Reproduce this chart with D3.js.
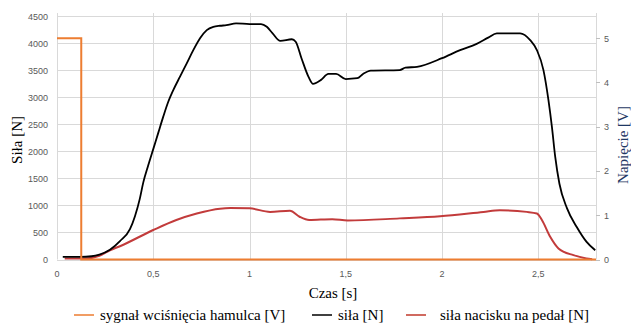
<!DOCTYPE html>
<html>
<head>
<meta charset="utf-8">
<script src="https://cdn.jsdelivr.net/npm/d3@7"></script>
<style>
  body { margin: 0; background: #fff; }
  svg { display: block; }
  .tick-label { font-family: "Liberation Sans", Arial, sans-serif; font-size: 9px; fill: #595959; }
  .title { font-family: "Liberation Serif", "Times New Roman", serif; font-size: 15px; }
</style>
</head>
<body>
<svg id="chart" width="631" height="323"></svg>
<script>
// Time axis ticks and labels (Polish decimal comma).
const xTicks = [0, 0.5, 1, 1.5, 2, 2.5];
const xTickLabels = ['0', '0,5', '1', '1,5', '2', '2,5'];
const leftTicks = [0, 500, 1000, 1500, 2000, 2500, 3000, 3500, 4000, 4500];
const rightTicks = [0, 1, 2, 3, 4, 5];

// Brake signal [V] (right axis).
const signalT = [0, 0.126, 0.126, 2.8];
const signalV = [5, 5, 0, 0];

// Force [N] (left axis).
const forceT = [0.03, 0.12, 0.18, 0.22, 0.275, 0.327, 0.379, 0.405, 0.43, 0.448, 0.474, 0.5, 0.526, 0.552, 0.578, 0.604, 0.639, 0.674, 0.708, 0.743, 0.778, 0.812, 0.847, 0.88, 0.93, 1.0, 1.06, 1.09, 1.12, 1.16, 1.22, 1.24, 1.27, 1.306, 1.33, 1.37, 1.41, 1.45, 1.5, 1.56, 1.59, 1.63, 1.78, 1.81, 1.87, 2.0, 2.094, 2.18, 2.24, 2.285, 2.406, 2.458, 2.493, 2.527, 2.553, 2.571, 2.588, 2.61, 2.649, 2.7, 2.75, 2.796];
const forceN = [50, 50, 60, 90, 180, 340, 560, 800, 1120, 1420, 1740, 2040, 2340, 2640, 2915, 3130, 3380, 3625, 3870, 4090, 4240, 4300, 4320, 4330, 4365, 4350, 4350, 4300, 4180, 4040, 4070, 4025, 3720, 3380, 3245, 3315, 3430, 3430, 3335, 3350, 3430, 3490, 3500, 3545, 3560, 3720, 3870, 3985, 4100, 4180, 4180, 4055, 3870, 3500, 2945, 2450, 1900, 1400, 950, 600, 330, 170];

// Pedal force [N] (left axis).
const pedalT = [0.04, 0.15, 0.22, 0.275, 0.33, 0.5, 0.62, 0.726, 0.847, 0.9, 1.0, 1.107, 1.21, 1.26, 1.31, 1.43, 1.51, 1.78, 1.99, 2.215, 2.3, 2.44, 2.493, 2.519, 2.562, 2.605, 2.683, 2.75, 2.78];
const pedalN = [20, 20, 70, 170, 250, 545, 730, 850, 940, 950, 945, 880, 900, 790, 730, 745, 720, 760, 800, 880, 910, 880, 850, 730, 420, 205, 80, 20, 5];

const legendItems = [
  { label: 'sygnał wciśnięcia hamulca [V]', color: '#ED7D31' },
  { label: 'siła [N]', color: '#000000' },
  { label: 'siła nacisku na pedał [N]', color: '#C0392B' }
];

const svg = d3.select('#chart');
const plotLeft = 57, plotRight = 596, plotTop = 16, plotBottom = 259.5;

const x = d3.scaleLinear().domain([0, 2.8]).range([plotLeft, plotRight]);
const yL = d3.scaleLinear().domain([0, 4500]).range([plotBottom, plotTop]);
const yR = d3.scaleLinear().domain([0, 5.5]).range([plotBottom, plotTop]);

// Gridlines.
const grid = svg.append('g').attr('stroke', '#d9d9d9').attr('stroke-width', 1);
grid.selectAll('line.h').data(leftTicks).join('line')
  .attr('x1', plotLeft).attr('x2', plotRight)
  .attr('y1', d => Math.round(yL(d)) + 0.5).attr('y2', d => Math.round(yL(d)) + 0.5);
grid.selectAll('line.v').data(xTicks.concat([2.8])).join('line')
  .attr('x1', d => Math.round(x(d)) + 0.5).attr('x2', d => Math.round(x(d)) + 0.5)
  .attr('y1', plotTop - 3).attr('y2', plotBottom);

// Right axis tick marks.
svg.append('g').attr('stroke', '#bfbfbf')
  .selectAll('line').data(rightTicks).join('line')
  .attr('x1', plotRight).attr('x2', plotRight + 4)
  .attr('y1', d => Math.round(yR(d)) + 0.5).attr('y2', d => Math.round(yR(d)) + 0.5);

// Tick labels.
svg.append('g').selectAll('text').data(leftTicks).join('text')
  .attr('class', 'tick-label')
  .attr('x', 48).attr('y', d => yL(d) + 3.5)
  .attr('text-anchor', 'end')
  .text(d => d);
svg.append('g').selectAll('text').data(rightTicks).join('text')
  .attr('class', 'tick-label')
  .attr('x', 604).attr('y', d => yR(d) + 3.5)
  .text(d => d);
svg.append('g').selectAll('text').data(xTicks).join('text')
  .attr('class', 'tick-label')
  .attr('x', d => x(d)).attr('y', 277)
  .attr('text-anchor', 'middle')
  .text((d, i) => xTickLabels[i]);

// Axis titles.
svg.append('text').attr('class', 'title')
  .attr('transform', 'translate(22,140) rotate(-90)')
  .attr('text-anchor', 'middle')
  .text('Siła [N]');
svg.append('text').attr('class', 'title')
  .attr('transform', 'translate(628,145) rotate(-90)')
  .attr('text-anchor', 'middle')
  .attr('fill', '#1F3864')
  .text('Napięcie [V]');
svg.append('text').attr('class', 'title')
  .attr('x', 333).attr('y', 298)
  .attr('text-anchor', 'middle')
  .text('Czas [s]');

// Series.
const lineL = d3.line().x(d => x(d[0])).y(d => yL(d[1])).curve(d3.curveMonotoneX);
const lineR = d3.line().x(d => x(d[0])).y(d => yR(d[1]));

svg.append('path')
  .datum(pedalT.map((t, i) => [t, pedalN[i]]))
  .attr('d', lineL)
  .attr('fill', 'none').attr('stroke', '#C23B3B').attr('stroke-width', 2);

svg.append('path')
  .datum(forceT.map((t, i) => [t, forceN[i]]))
  .attr('d', lineL)
  .attr('fill', 'none').attr('stroke', '#000').attr('stroke-width', 1.8);

svg.append('path')
  .datum(signalT.map((t, i) => [t, signalV[i]]))
  .attr('d', lineR)
  .attr('fill', 'none').attr('stroke', '#ED7D31').attr('stroke-width', 2);

// Legend.
const legendX = [74, 312, 406];
const lg = svg.append('g').selectAll('g').data(legendItems).join('g')
  .attr('transform', (d, i) => `translate(${legendX[i]},315)`);
lg.append('line')
  .attr('x1', 0).attr('x2', 20).attr('y1', 0).attr('y2', 0)
  .attr('stroke', d => d.color).attr('stroke-width', 1.5);
lg.append('text').attr('class', 'title')
  .attr('x', (d, i) => i === 2 ? 34 : 26).attr('y', 5)
  .text(d => d.label);
</script>
</body>
</html>
